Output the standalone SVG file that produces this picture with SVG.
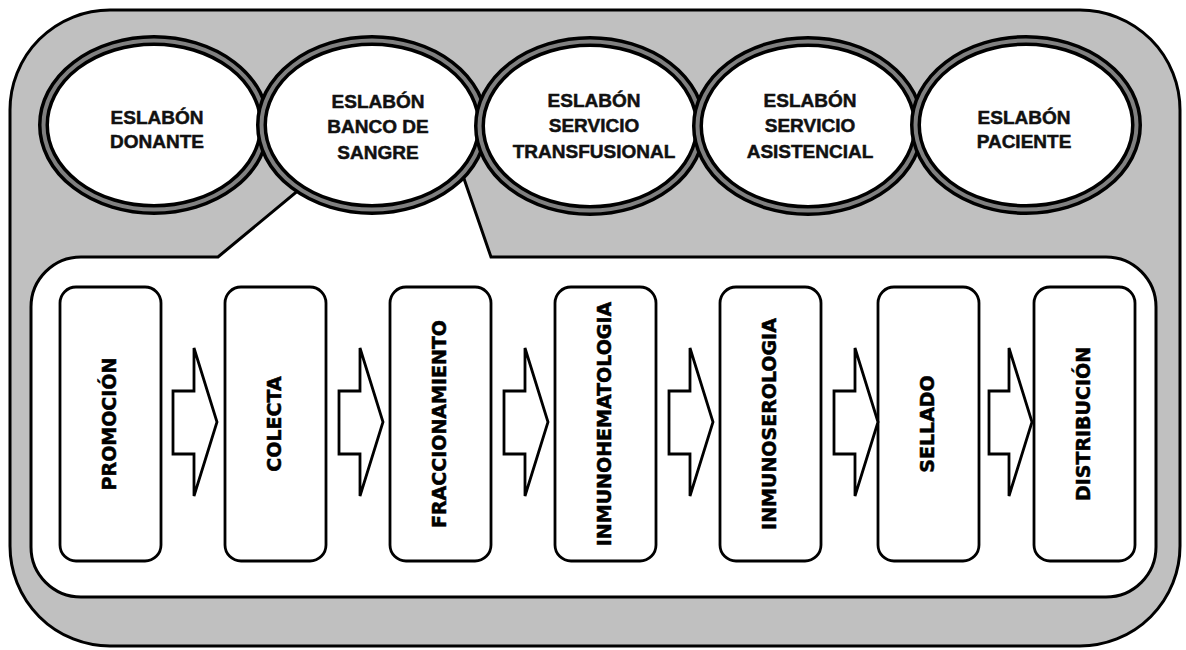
<svg xmlns="http://www.w3.org/2000/svg" width="1186" height="650" viewBox="0 0 1186 650">
  <style>
    .frame { fill: #c0c0c0; stroke: #000; stroke-width: 3; }
    .panel { fill: #fff; stroke: #000; stroke-width: 3; stroke-linejoin: miter; }
    .ring { fill: #fff; stroke: #000; stroke-width: 11; }
    .band { fill: none; stroke: #808080; stroke-width: 4; }
    .link { font-family: "Liberation Sans", Arial, sans-serif; font-weight: bold; font-size: 19px; fill: #111; stroke: #111; stroke-width: 0.5; text-anchor: middle; }
    .step rect { fill: #fff; stroke: #000; stroke-width: 2.8; }
    .step text { font-family: "DejaVu Sans", Verdana, sans-serif; font-weight: bold; font-size: 19px; fill: #000; stroke: #000; stroke-width: 0.5; text-anchor: middle; }
    .arrow { fill: #fff; stroke: #000; stroke-width: 2.8; stroke-linejoin: miter; }
  </style>

  <!-- outer frame -->
  <g id="frame">
    <rect class="frame" x="10" y="10" width="1170" height="636" rx="100" ry="100"/>
  </g>

  <!-- white process panel with callout towards the blood bank link -->
  <g id="panel">
    <path class="panel" d="M 31,307 A 50 50 0 0 1 81,257 L 218,257 L 312,179 L 461,170 L 491,257 L 1106,257 A 50 50 0 0 1 1156,307 L 1156,547 A 50 50 0 0 1 1106,597 L 81,597 A 50 50 0 0 1 31,547 Z"/>
  </g>

  <!-- chain links -->
  <g id="link-donante">
    <ellipse class="ring" cx="154" cy="125" rx="110.5" ry="84.5"/>
    <ellipse class="band" cx="154" cy="125" rx="110.5" ry="84.5"/>
    <text class="link" x="157" y="124">ESLABÓN</text>
    <text class="link" x="157" y="148">DONANTE</text>
  </g>
  <g id="link-banco">
    <ellipse class="ring" cx="372" cy="125" rx="110.5" ry="84.5"/>
    <ellipse class="band" cx="372" cy="125" rx="110.5" ry="84.5"/>
    <text class="link" x="378" y="108">ESLABÓN</text>
    <text class="link" x="378" y="133">BANCO DE</text>
    <text class="link" x="378" y="159">SANGRE</text>
  </g>
  <g id="link-transfusional">
    <ellipse class="ring" cx="590" cy="126" rx="110.5" ry="84.5"/>
    <ellipse class="band" cx="590" cy="126" rx="110.5" ry="84.5"/>
    <text class="link" x="594" y="107">ESLABÓN</text>
    <text class="link" x="594" y="132">SERVICIO</text>
    <text class="link" x="594" y="158">TRANSFUSIONAL</text>
  </g>
  <g id="link-asistencial">
    <ellipse class="ring" cx="808" cy="126" rx="110.5" ry="84.5"/>
    <ellipse class="band" cx="808" cy="126" rx="110.5" ry="84.5"/>
    <text class="link" x="810" y="107">ESLABÓN</text>
    <text class="link" x="810" y="132">SERVICIO</text>
    <text class="link" x="810" y="158">ASISTENCIAL</text>
  </g>
  <g id="link-paciente">
    <ellipse class="ring" cx="1026" cy="125" rx="110.5" ry="84.5"/>
    <ellipse class="band" cx="1026" cy="125" rx="110.5" ry="84.5"/>
    <text class="link" x="1024" y="124">ESLABÓN</text>
    <text class="link" x="1024" y="148">PACIENTE</text>
  </g>

  <!-- process steps -->
  <g id="step-promocion" class="step">
    <rect x="60" y="287" width="101" height="274" rx="16"/>
    <text transform="translate(116,424) rotate(-90)">PROMOCIÓN</text>
  </g>
  <g id="step-colecta" class="step">
    <rect x="225" y="287" width="101" height="274" rx="16"/>
    <text transform="translate(281,424) rotate(-90)">COLECTA</text>
  </g>
  <g id="step-fraccionamiento" class="step">
    <rect x="390" y="287" width="101" height="274" rx="16"/>
    <text transform="translate(446,424) rotate(-90)">FRACCIONAMIENTO</text>
  </g>
  <g id="step-inmunohematologia" class="step">
    <rect x="555" y="287" width="101" height="274" rx="16"/>
    <text transform="translate(611,424) rotate(-90)">INMUNOHEMATOLOGIA</text>
  </g>
  <g id="step-inmunoserologia" class="step">
    <rect x="720" y="287" width="101" height="274" rx="16"/>
    <text transform="translate(776,424) rotate(-90)">INMUNOSEROLOGIA</text>
  </g>
  <g id="step-sellado" class="step">
    <rect x="878" y="287" width="101" height="274" rx="16"/>
    <text transform="translate(934,424) rotate(-90)">SELLADO</text>
  </g>
  <g id="step-distribucion" class="step">
    <rect x="1034" y="287" width="101" height="274" rx="16"/>
    <text transform="translate(1090,424) rotate(-90)">DISTRIBUCIÓN</text>
  </g>

  <!-- block arrows between steps -->
  <g id="connectors">
    <path class="arrow" d="M 173,391 L 194,391 L 194,348 L 217,422 L 194,496 L 194,454 L 173,454 Z"/>
    <path class="arrow" d="M 339,391 L 360,391 L 360,348 L 383,422 L 360,496 L 360,454 L 339,454 Z"/>
    <path class="arrow" d="M 504,391 L 525,391 L 525,348 L 548,422 L 525,496 L 525,454 L 504,454 Z"/>
    <path class="arrow" d="M 669,391 L 690,391 L 690,348 L 713,422 L 690,496 L 690,454 L 669,454 Z"/>
    <path class="arrow" d="M 834,391 L 855,391 L 855,348 L 878,422 L 855,496 L 855,454 L 834,454 Z"/>
    <path class="arrow" d="M 989,391 L 1009,391 L 1009,348 L 1032,422 L 1009,496 L 1009,454 L 989,454 Z"/>
  </g>
</svg>
